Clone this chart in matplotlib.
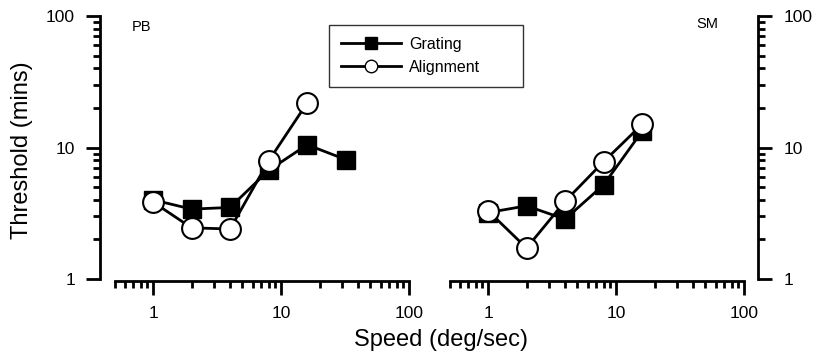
import matplotlib
matplotlib.use("Agg")
import matplotlib.pyplot as plt
from matplotlib.lines import Line2D
from matplotlib.ticker import LogLocator, NullFormatter, FixedLocator, FixedFormatter

plt.rcParams['font.family'] = ['Liberation Sans', 'DejaVu Sans']

# Data
speeds_pb = [1, 2, 4, 8, 16, 32]
grating_pb = [4.0, 3.4, 3.5, 6.7, 10.5, 8.1]
speeds_pb_align = [1, 2, 4, 8, 16]
alignment_pb = [3.85, 2.45, 2.4, 7.9, 21.8]

speeds_sm = [1, 2, 4, 8, 16]
grating_sm = [3.2, 3.6, 2.85, 5.2, 13.3]
alignment_sm = [3.3, 1.72, 3.9, 7.8, 15.0]

tick_vals = [1, 10, 100]
tick_labels = ['1', '10', '100']
panel_labels = ['PB', 'SM']

W, H = 817, 355
fig = plt.figure(figsize=(W / 100, H / 100), dpi=100)

bottom = (H - 279) / H
height = (279 - 16) / H
ax1 = fig.add_axes([114.5 / W, bottom, (409 - 114.5) / W, height])
ax2 = fig.add_axes([449.5 / W, bottom, (744 - 449.5) / W, height])

lw = 2.0
sq_ms = 13.5
ci_ms = 15

def style(ax, side):
    ax.set_xscale('log')
    ax.set_yscale('log')
    ax.set_xlim(0.5, 100)
    ax.set_ylim(1, 100)
    for s in ['top', 'left', 'right', 'bottom']:
        ax.spines[s].set_visible(False)
    ax.spines['bottom'].set_visible(True)
    ax.spines[side].set_visible(True)
    ax.spines[side].set_position(('outward', 10.4))
    ax.spines['bottom'].set_position(('outward', 1.4))
    for s in ['bottom', side]:
        ax.spines[s].set_linewidth(lw)
    ax.xaxis.set_major_locator(FixedLocator(tick_vals))
    ax.xaxis.set_major_formatter(FixedFormatter(tick_labels))
    ax.yaxis.set_major_locator(FixedLocator(tick_vals))
    ax.yaxis.set_major_formatter(FixedFormatter(tick_labels))
    ax.xaxis.set_minor_locator(LogLocator(base=10, subs=range(2, 10), numticks=20))
    ax.yaxis.set_minor_locator(LogLocator(base=10, subs=range(2, 10), numticks=20))
    ax.xaxis.set_minor_formatter(NullFormatter())
    ax.yaxis.set_minor_formatter(NullFormatter())
    ax.tick_params(which='major', length=10, width=lw, labelsize=12.5, pad=8, direction='out')
    ax.tick_params(which='minor', length=5, width=lw, direction='out')
    if side == 'left':
        ax.tick_params(axis='y', which='both', left=True, right=False, labelleft=True, labelright=False)
    else:
        ax.tick_params(axis='y', which='both', left=False, right=True, labelleft=False, labelright=True)
    ax.tick_params(axis='x', which='both', top=False, bottom=True)
    ax.patch.set_visible(False)

style(ax1, 'left')
style(ax2, 'right')

for ax, xs_g, g, xs_a, a in [(ax1, speeds_pb, grating_pb, speeds_pb_align, alignment_pb),
                              (ax2, speeds_sm, grating_sm, speeds_sm, alignment_sm)]:
    ax.plot(xs_g, g, color='black', lw=lw, marker='s', ms=sq_ms, mfc='black', mec='black',
            mew=1, zorder=3, clip_on=False)
    ax.plot(xs_a, a, color='black', lw=lw, marker='o', ms=ci_ms, mfc='white', mec='black',
            mew=1.5, zorder=4, clip_on=False)

fig.text(132 / W, 1 - 27 / H, panel_labels[0], fontsize=10.5, ha='left', va='center')
fig.text(718 / W, 1 - 24 / H, panel_labels[1], fontsize=10.5, ha='right', va='center')

fig.text(22 / W, 1 - 150 / H, 'Threshold (mins)', fontsize=17, rotation=90,
         ha='center', va='center')
fig.text(441 / W, 1 - 340 / H, 'Speed (deg/sec)', fontsize=17, ha='center', va='center')

handles = [
    Line2D([], [], color='black', lw=lw, marker='s', ms=8, mfc='black', mec='black'),
    Line2D([], [], color='black', lw=lw, marker='o', ms=9, mfc='white', mec='black', mew=1),
]
x0, x1 = 329 / W, 523 / W
y1, y0 = 1 - 25 / H, 1 - 84 / H
leg = fig.legend(handles, ['Grating', 'Alignment'], loc='upper left',
                 bbox_to_anchor=(x0, y0, x1 - x0, y1 - y0), bbox_transform=fig.transFigure,
                 mode='expand', fontsize=11.5, frameon=True, fancybox=False, borderaxespad=0,
                 handlelength=3.75, handletextpad=0.5, labelspacing=0.5,
                 borderpad=0.75)
leg.get_frame().set_edgecolor('black')
leg.get_frame().set_linewidth(1)

fig.savefig('out.png', dpi=100)
